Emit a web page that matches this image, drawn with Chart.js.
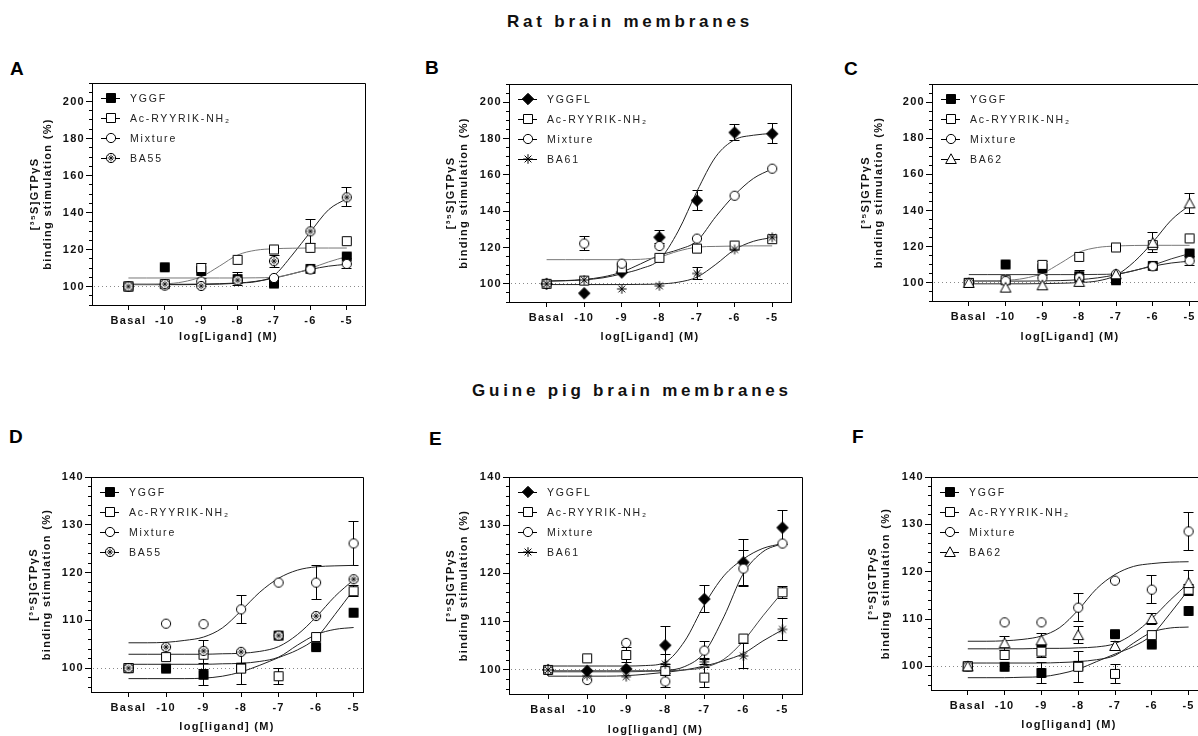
<!DOCTYPE html>
<html><head><meta charset="utf-8">
<script src="https://cdn.jsdelivr.net/npm/chart.js@4.4.1/dist/chart.umd.min.js"></script>
<style>
html,body{margin:0;padding:0;background:#fff;}
body{width:1198px;height:736px;overflow:hidden;position:relative;font-family:"Liberation Sans",Arial,sans-serif;}
canvas{position:absolute;}
.title{position:absolute;font-weight:bold;font-size:17px;letter-spacing:3.8px;line-height:17px;white-space:nowrap;color:#111;}
.letter{position:absolute;font-weight:bold;font-size:19px;line-height:19px;color:#000;}
</style></head><body>
<div class="title" style="left:507px;top:13px">Rat brain membranes</div>
<div class="title" style="left:472px;top:382px">Guine pig brain membranes</div>
<div class="letter" style="left:10px;top:59px">A</div>
<div class="letter" style="left:425px;top:58px">B</div>
<div class="letter" style="left:844px;top:58.5px">C</div>
<div class="letter" style="left:9px;top:427px">D</div>
<div class="letter" style="left:429px;top:429px">E</div>
<div class="letter" style="left:852px;top:427px">F</div>
<script>
// ---------- shared axes / labels ----------
const xPts = [-11, -10, -9, -8, -7, -6, -5];
const xFit = [-11, -10.5, -10, -9.5, -9, -8.5, -8, -7.5, -7, -6.5, -6, -5.5, -5];
const xTickVals = [-11, -10, -9, -8, -7, -6, -5];
const xTickLabels = ['Basal', '-10', '-9', '-8', '-7', '-6', '-5'];
const yTicksRat = [100, 120, 140, 160, 180, 200];
const yTicksGp = [100, 110, 120, 130, 140];
const baselineValue = 100;
const xTitleRat = 'log[Ligand] (M)';
const xTitleGp = 'log[ligand] (M)';
const yTitleLines = ['[³⁵S]GTPγS', 'binding stimulation (%)'];
const labelsA = ['YGGF', 'Ac-RYYRIK-NH₂', 'Mixture', 'BA55'];
const labelsB = ['YGGFL', 'Ac-RYYRIK-NH₂', 'Mixture', 'BA61'];
const labelsC = ['YGGF', 'Ac-RYYRIK-NH₂', 'Mixture', 'BA62'];

// ---------- Panel A (rat) ----------
const A_YGGF = [100, 110.4, 108.4, 104, 101.6, 109.5, 116.2];
const A_YGGF_err = [0, 0, 4, 3.5, 0, 0, 0];
const A_Ac = [100, 101.3, 110, 114.4, 120, 120.9, 124.5];
const A_Ac_err = [0, 0, 0, 0, 0, 0, 0];
const A_Mix = [100, 100.5, 102.7, 103.1, 104.6, 109.2, 112.2];
const A_Mix_err = [0, 0, 0, 0, 0, 0, 2.7];
const A_BA55 = [100, 101.3, 100.3, 103.4, 113.7, 129.8, 148.2];
const A_BA55_err = [0, 0, 0, 0, 3.3, 6.6, 5.2];
const A_YGGF_fit = [104.6, 104.6, 104.6, 104.6, 104.6, 104.6, 104.6, 104.7, 105, 106.8, 109.8, 113.3, 116.2];
const A_Ac_fit = [101.2, 101.2, 101.4, 102.5, 105.3, 111, 117, 119.6, 120.4, 120.7, 120.8, 120.8, 120.8];
const A_Mix_fit = [101, 101, 101, 101, 101.1, 101.3, 101.8, 102.8, 104.5, 106.9, 109.2, 111, 112];
const A_BA55_fit = [101.2, 101.2, 101.2, 101.2, 101.3, 101.5, 101.9, 102.6, 106, 117, 129.5, 141.5, 147.5];

// ---------- Panel B (rat) ----------
const B_YGGFL = [100, 94.8, 106.3, 125.6, 145.9, 183.3, 182.6];
const B_YGGFL_err = [0, 0, 0, 3.5, 5.6, 4.3, 5.5];
const B_Ac = [100, 101.8, 108.5, 114.3, 119.4, 121.1, 124.6];
const B_Ac_err = [0, 0, 0, 0, 0, 0, 0];
const B_Mix = [100, 122.2, 111.1, 120.8, 124.9, 148.5, 163.4];
const B_Mix_err = [0, 3.9, 0, 0, 0, 0, 0];
const B_BA61 = [100, 102.1, 97.2, 98.9, 105.7, 118.9, 125.6];
const B_BA61_err = [0, 0, 0, 0, 3.1, 0, 0];
const B_YGGFL_fit = [101.5, 101.7, 102.2, 103.3, 105.5, 108.3, 113.3, 129, 151, 170, 179.3, 181.8, 182.8];
const B_Ac_fit = [113.3, 113.3, 113.3, 113.3, 113.3, 113.5, 114.8, 118, 120.2, 120.6, 120.8, 120.9, 120.9];
const B_Mix_fit = [101.5, 101.8, 102.4, 103.8, 106.5, 111, 115.7, 118.8, 123.6, 137, 148.9, 158, 163.3];
const B_BA61_fit = [99.6, 99.6, 99.6, 99.6, 99.6, 99.7, 99.9, 100.9, 103.7, 110.7, 118.8, 123.4, 125.5];

// ---------- Panel C (rat) ----------
const C_YGGF = [100, 110.2, 108, 103.7, 101.5, 109.4, 116.3];
const C_YGGF_err = [0, 0, 4, 3, 0, 0, 0];
const C_Ac = [100, 101.5, 110, 114.4, 119.6, 120.9, 124.6];
const C_Ac_err = [0, 0, 0, 0, 0, 0, 0];
const C_Mix = [100, 101, 102.8, 103, 104.8, 109.2, 112.2];
const C_Mix_err = [0, 0, 0, 0, 0, 0, 2.5];
const C_BA62 = [100, 97.4, 98.7, 100.6, 104.8, 122.2, 144];
const C_BA62_err = [0, 0, 0, 0, 0, 5.5, 5.5];
const C_YGGF_fit = [104.6, 104.6, 104.6, 104.6, 104.6, 104.6, 104.6, 104.7, 105, 106.8, 109.8, 113.3, 116.2];
const C_Ac_fit = [101.2, 101.2, 101.4, 102.5, 105.3, 111, 117, 119.6, 120.4, 120.7, 120.8, 120.8, 120.8];
const C_Mix_fit = [101, 101, 101, 101, 101.1, 101.3, 101.8, 102.8, 104.5, 106.9, 109.2, 111, 112];
const C_BA62_fit = [99.5, 99.5, 99.5, 99.5, 99.6, 99.8, 100.2, 101.1, 104.2, 111.8, 122.5, 134.7, 143];

// ---------- Panel D (guinea pig) ----------
const D_YGGF = [100, 99.9, 98.6, 100.1, 106.8, 104.4, 111.6];
const D_YGGF_err = [0, 0, 2.3, 0, 0, 0, 0];
const D_Ac = [100, 102.3, 102.8, 99.9, 98.3, 106.5, 116.1];
const D_Ac_err = [0, 0, 3, 3.3, 1.7, 0, 1.2];
const D_Mix = [100, 109.3, 109.2, 112.3, 117.9, 117.9, 126.1];
const D_Mix_err = [0, 0, 0, 3, 0, 3.6, 4.6];
const D_BA55 = [100, 104.4, 103.6, 103.4, 106.8, 110.9, 118.6];
const D_BA55_err = [0, 0, 0, 0, 0, 0, 0];
const D_YGGF_fit = [100.8, 100.8, 100.8, 100.8, 100.8, 100.9, 101, 101.4, 102.3, 104.8, 107, 108.1, 108.5];
const D_Ac_fit = [97.8, 97.8, 97.8, 97.8, 97.9, 98.3, 99.2, 100.6, 102.2, 103.8, 106.3, 111.2, 116.4];
const D_Mix_fit = [105.3, 105.3, 105.4, 105.8, 106.5, 108.4, 112, 115.9, 118.8, 120.5, 121.2, 121.4, 121.5];
const D_BA55_fit = [102.9, 102.9, 102.9, 102.9, 102.9, 103, 103.1, 103.5, 104.5, 107, 110.7, 115, 118.5];

// ---------- Panel E (guinea pig) ----------
const E_YGGFL = [100, 99.8, 100.2, 105.1, 114.7, 122.3, 129.5];
const E_YGGFL_err = [0, 0, 0, 4, 2.9, 4.7, 3.6];
const E_Ac = [100, 102.4, 103.1, 99.8, 98.4, 106.5, 116.1];
const E_Ac_err = [0, 0, 1.5, 0, 2, 0, 1.2];
const E_Mix = [100, 97.9, 105.6, 97.6, 104, 121, 126.2];
const E_Mix_err = [0, 0, 0, 1.3, 1.8, 3.8, 0];
const E_BA61 = [100, 98.8, 98.6, 101.2, 101.7, 102.9, 108.4];
const E_BA61_err = [0, 0, 0, 2, 0.6, 2.6, 2.3];
const E_YGGFL_fit = [100.8, 100.8, 100.8, 100.8, 100.8, 100.9, 101.6, 106, 113.5, 119.5, 123, 125.2, 126.2];
const E_Ac_fit = [99.6, 99.6, 99.6, 99.6, 99.6, 99.7, 99.8, 100, 100.5, 102.2, 106, 111.2, 116.1];
const E_Mix_fit = [99.8, 99.8, 99.8, 99.8, 99.8, 99.8, 99.9, 100.7, 103.6, 111, 120, 124.5, 126.2];
const E_BA61_fit = [98.7, 98.7, 98.7, 98.7, 98.8, 99.1, 99.5, 100, 100.8, 101.9, 103.4, 106, 108.3];

// ---------- Panel F (guinea pig) ----------
const F_YGGF = [100, 99.9, 98.6, 100.1, 106.8, 104.6, 111.7];
const F_YGGF_err = [0, 0, 2.3, 0, 0, 0, 0];
const F_Ac = [100, 102.4, 103.1, 99.9, 98.4, 106.6, 116.2];
const F_Ac_err = [0, 0, 1.2, 3.3, 2, 0, 1];
const F_Mix = [100, 109.3, 109.3, 112.4, 118.1, 116.2, 128.5];
const F_Mix_err = [0, 0, 0, 3, 0, 3, 4];
const F_BA62 = [100, 104.9, 105.5, 106.6, 104.3, 110, 117.6];
const F_BA62_err = [0, 1.5, 1.4, 1.8, 1, 1.2, 2.6];
const F_YGGF_fit = [100.7, 100.7, 100.7, 100.7, 100.7, 100.8, 101, 101.4, 102.3, 104.9, 107.2, 108.1, 108.3];
const F_Ac_fit = [97.6, 97.6, 97.6, 97.7, 97.8, 98.4, 99.4, 101, 102.6, 104.2, 106.6, 111.2, 116.2];
const F_Mix_fit = [105.3, 105.3, 105.4, 105.7, 106.4, 108.2, 111.9, 116.4, 119.4, 121.1, 121.7, 122, 122.1];
const F_BA62_fit = [103.7, 103.7, 103.7, 103.7, 103.8, 103.8, 103.9, 104.1, 104.8, 106.9, 110.1, 114, 117.6];

// ---------- marker images ----------
function makeMarker(kind) {
  const c = document.createElement('canvas');
  c.width = 14; c.height = 14;
  const g = c.getContext('2d');
  const m = 7;
  g.lineWidth = 1; g.strokeStyle = '#000'; g.fillStyle = '#fff';
  g.beginPath();
  switch (kind) {
    case 'sqFill':
      g.fillStyle = '#000'; g.rect(2.5, 2.5, 9, 9); g.fill(); g.stroke(); break;
    case 'sqOpen':
      g.rect(2.5, 2.5, 9, 9); g.fill(); g.stroke(); break;
    case 'circle':
      g.arc(m, m, 4.6, 0, Math.PI * 2); g.fill(); g.stroke(); break;
    case 'diamond':
      g.fillStyle = '#000';
      g.moveTo(m, 1.3); g.lineTo(12.7, m); g.lineTo(m, 12.7); g.lineTo(1.3, m); g.closePath();
      g.fill(); g.stroke(); break;
    case 'triangle':
      g.moveTo(m, 1.8); g.lineTo(12.3, 11.5); g.lineTo(1.7, 11.5); g.closePath();
      g.fill(); g.stroke(); break;
    case 'star': {
      const r = 4.8;
      for (let k = 0; k < 4; k++) {
        const an = k * Math.PI / 4;
        g.moveTo(m - r * Math.cos(an), m - r * Math.sin(an));
        g.lineTo(m + r * Math.cos(an), m + r * Math.sin(an));
      }
      g.stroke(); break;
    }
    case 'circleStar': {
      g.arc(m, m, 4.6, 0, Math.PI * 2); g.fill(); g.stroke();
      g.beginPath();
      g.lineWidth = 0.8;
      const r = 3.4;
      for (let k = 0; k < 4; k++) {
        const an = k * Math.PI / 4;
        g.moveTo(m - r * Math.cos(an), m - r * Math.sin(an));
        g.lineTo(m + r * Math.cos(an), m + r * Math.sin(an));
      }
      g.stroke(); break;
    }
  }
  return c;
}
const markerImgs = {};
['sqFill', 'sqOpen', 'circle', 'diamond', 'triangle', 'star', 'circleStar'].forEach(k => markerImgs[k] = makeMarker(k));

// ---------- panel layout ----------
const panels = [
  {L: 92, T: 83, R: 365, B: 305, yMin: 90, yMax: 210, xMax: -4.5, yTicks: yTicksRat, minor: 5,
   xTitle: xTitleRat, xOff: 31, d2: 44, labels: labelsA,
   markers: ['sqFill', 'sqOpen', 'circle', 'circleStar'],
   pts: [A_YGGF, A_Ac, A_Mix, A_BA55], errs: [A_YGGF_err, A_Ac_err, A_Mix_err, A_BA55_err],
   fits: [A_YGGF_fit, A_Ac_fit, A_Mix_fit, A_BA55_fit], fitColors: ['#777', '#777', '#222', '#222']},
  {L: 509, T: 84, R: 791, B: 302, yMin: 90, yMax: 210, xMax: -4.5, yTicks: yTicksRat, minor: 5,
   xTitle: xTitleRat, xOff: 34, d2: 45, labels: labelsB,
   markers: ['diamond', 'sqOpen', 'circle', 'star'],
   pts: [B_YGGFL, B_Ac, B_Mix, B_BA61], errs: [B_YGGFL_err, B_Ac_err, B_Mix_err, B_BA61_err],
   fits: [B_YGGFL_fit, B_Ac_fit, B_Mix_fit, B_BA61_fit], fitColors: ['#222', '#777', '#222', '#222']},
  {L: 932, T: 84, R: 1208, B: 301, yMin: 90, yMax: 210, xMax: -4.5, yTicks: yTicksRat, minor: 5,
   xTitle: xTitleRat, xOff: 35, d2: 53, labels: labelsC,
   markers: ['sqFill', 'sqOpen', 'circle', 'triangle'],
   pts: [C_YGGF, C_Ac, C_Mix, C_BA62], errs: [C_YGGF_err, C_Ac_err, C_Mix_err, C_BA62_err],
   fits: [C_YGGF_fit, C_Ac_fit, C_Mix_fit, C_BA62_fit], fitColors: ['#333', '#777', '#222', '#222']},
  {L: 91, T: 477, R: 363, B: 692, yMin: 95, yMax: 140, xMax: -4.75, yTicks: yTicksGp, minor: 2,
   xTitle: xTitleGp, xOff: 34, d2: 44.5, labels: labelsA,
   markers: ['sqFill', 'sqOpen', 'circle', 'circleStar'],
   pts: [D_YGGF, D_Ac, D_Mix, D_BA55], errs: [D_YGGF_err, D_Ac_err, D_Mix_err, D_BA55_err],
   fits: [D_YGGF_fit, D_Ac_fit, D_Mix_fit, D_BA55_fit], fitColors: ['#222', '#222', '#222', '#222']},
  {L: 509, T: 477, R: 802, B: 694, yMin: 95, yMax: 140, xMax: -4.5, yTicks: yTicksGp, minor: 2,
   xTitle: xTitleGp, xOff: 35.5, d2: 45.5, labels: labelsB,
   markers: ['diamond', 'sqOpen', 'circle', 'star'],
   pts: [E_YGGFL, E_Ac, E_Mix, E_BA61], errs: [E_YGGFL_err, E_Ac_err, E_Mix_err, E_BA61_err],
   fits: [E_YGGFL_fit, E_Ac_fit, E_Mix_fit, E_BA61_fit], fitColors: ['#222', '#444', '#222', '#222']},
  {L: 931, T: 477, R: 1207, B: 690, yMin: 95, yMax: 140, xMax: -4.5, yTicks: yTicksGp, minor: 2,
   xTitle: xTitleGp, xOff: 34, d2: 45, labels: labelsC,
   markers: ['sqFill', 'sqOpen', 'circle', 'triangle'],
   pts: [F_YGGF, F_Ac, F_Mix, F_BA62], errs: [F_YGGF_err, F_Ac_err, F_Mix_err, F_BA62_err],
   fits: [F_YGGF_fit, F_Ac_fit, F_Mix_fit, F_BA62_fit], fitColors: ['#222', '#222', '#222', '#222']}
];

Chart.defaults.font.family = '"Liberation Sans", Arial, sans-serif';
Chart.defaults.color = '#111';

const al = p => Math.round(p - 0.5) + 0.5;

function makeDeco(p) {
  return {
    id: 'panelDeco',
    beforeUpdate(c) { c.ctx.letterSpacing = '1.3px'; },
    beforeDraw(c) { c.ctx.letterSpacing = '1.3px'; },
    beforeDatasetsDraw(c) {
      const {ctx, chartArea: a, scales: {x, y}} = c;
      ctx.save();
      const yb = al(y.getPixelForValue(baselineValue));
      ctx.strokeStyle = '#8a8a8a'; ctx.lineWidth = 1; ctx.setLineDash([1, 3]);
      ctx.beginPath(); ctx.moveTo(a.left + 2, yb); ctx.lineTo(a.right, yb); ctx.stroke();
      ctx.setLineDash([]);
      ctx.strokeStyle = '#000';
      c.data.datasets.forEach(ds => {
        if (!ds.errorBars) return;
        ds.data.forEach((pt, j) => {
          const e = ds.errorBars[j];
          if (!e) return;
          const px = al(x.getPixelForValue(pt.x));
          const yt = al(y.getPixelForValue(pt.y + e));
          const ybt = al(y.getPixelForValue(pt.y - e));
          ctx.beginPath();
          ctx.moveTo(px, yt); ctx.lineTo(px, ybt);
          ctx.moveTo(px - 5, yt); ctx.lineTo(px + 5, yt);
          ctx.moveTo(px - 5, ybt); ctx.lineTo(px + 5, ybt);
          ctx.stroke();
        });
      });
      ctx.restore();
    },
    afterDraw(c) {
      const {ctx, chartArea: a, scales: {y}} = c;
      ctx.save();
      ctx.strokeStyle = '#000'; ctx.lineWidth = 1;
      ctx.beginPath();
      ctx.moveTo(al(a.left), al(a.top)); ctx.lineTo(al(a.right), al(a.top)); ctx.lineTo(al(a.right), al(a.bottom));
      ctx.stroke();
      ctx.beginPath();
      for (let v = Math.ceil(p.yMin / p.minor) * p.minor; v <= p.yMax + 1e-6; v += p.minor) {
        if (p.yTicks.includes(v)) continue;
        const py = al(y.getPixelForValue(v));
        ctx.moveTo(al(a.left) - 3.5, py); ctx.lineTo(al(a.left), py);
      }
      ctx.stroke();
      ctx.letterSpacing = '1.8px';
      ctx.font = '10.5px "Liberation Sans", Arial, sans-serif';
      ctx.fillStyle = '#222'; ctx.textBaseline = 'middle'; ctx.textAlign = 'left';
      p.labels.forEach((lab, i) => {
        const yy = al(a.top + 15 + i * 20.3);
        ctx.beginPath(); ctx.moveTo(a.left + 9, yy); ctx.lineTo(a.left + 28, yy); ctx.stroke();
        const img = markerImgs[p.markers[i]];
        ctx.drawImage(img, Math.round(a.left + 18.5 - img.width / 2), Math.round(yy - 0.5 - img.height / 2));
        ctx.fillText(lab, a.left + 38, yy + 0.5);
      });
      ctx.restore();
    }
  };
}

function build(p) {
  const cv = document.createElement('canvas');
  const W = p.R - p.L + 80 + 12;
  const xH = Math.round(p.xOff + 6.5);
  const H = p.B - p.T + 12 + xH;
  cv.width = W; cv.height = H;
  cv.style.left = (p.L - 80) + 'px'; cv.style.top = (p.T - 12) + 'px';
  cv.style.width = W + 'px'; cv.style.height = H + 'px';
  document.body.appendChild(cv);
  const datasets = [];
  p.fits.forEach((f, i) => datasets.push({
    label: p.labels[i] + ' fit', data: xFit.map((x, j) => ({x, y: f[j]})),
    showLine: true, pointRadius: 0, borderColor: p.fitColors[i], borderWidth: 1,
    cubicInterpolationMode: 'monotone', order: 10
  }));
  p.pts.forEach((v, i) => datasets.push({
    label: p.labels[i], data: xPts.map((x, j) => ({x, y: v[j]})),
    showLine: false, pointStyle: markerImgs[p.markers[i]], pointRadius: 5,
    errorBars: p.errs[i], order: 4 - i
  }));
  new Chart(cv, {
    type: 'scatter',
    data: {datasets},
    options: {
      responsive: false, animation: false, devicePixelRatio: 1, events: [],
      layout: {padding: {left: 0, top: 12, right: 12, bottom: 0}},
      plugins: {legend: {display: false}, tooltip: {enabled: false}},
      scales: {
        x: {
          type: 'linear', min: -12, max: p.xMax,
          afterBuildTicks: s => { s.ticks = xTickVals.map(v => ({value: v})); },
          afterFit: s => { s.height = xH; },
          ticks: {autoSkip: false, maxRotation: 0, minRotation: 0, padding: 4, color: '#111',
                  font: {size: 11, weight: 'bold'}, callback: (v, i) => xTickLabels[i]},
          grid: {display: true, drawOnChartArea: false, drawTicks: true, tickLength: 5, color: '#000', tickColor: '#000'},
          border: {display: true, color: '#000', width: 1},
          title: {display: true, text: p.xTitle, color: '#111', font: {size: 11, weight: 'bold', lineHeight: '13px'}, padding: {top: 0, bottom: 0}}
        },
        y: {
          type: 'linear', min: p.yMin, max: p.yMax,
          afterBuildTicks: s => { s.ticks = p.yTicks.map(v => ({value: v})); },
          afterFit: s => { s.width = 80; },
          ticks: {padding: 1, color: '#111', font: {size: 11, weight: 'bold'}},
          grid: {display: true, drawOnChartArea: false, drawTicks: true, tickLength: 6, color: '#000', tickColor: '#000'},
          border: {display: true, color: '#000', width: 1},
          title: {display: true, text: yTitleLines, color: '#111', font: {size: 11, weight: 'bold', lineHeight: '13px'},
                  padding: {top: 60.5 - p.d2, bottom: 0}}
        }
      }
    },
    plugins: [makeDeco(p)]
  });
}
panels.forEach(build);
</script>
</body></html>
